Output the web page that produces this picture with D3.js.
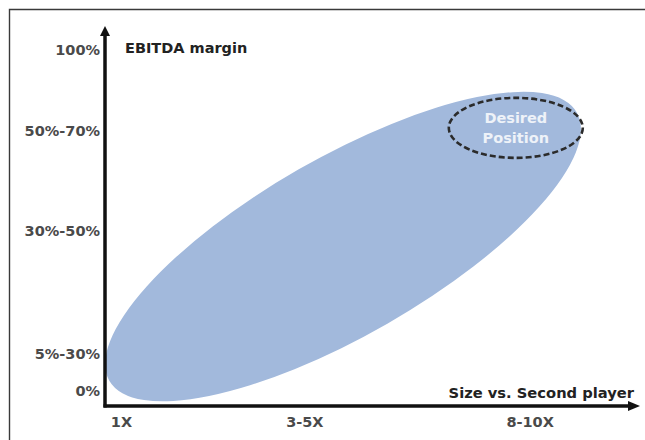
<!DOCTYPE html>
<html>
<head>
<meta charset="utf-8">
<script src="https://cdn.jsdelivr.net/npm/d3@7"></script>
<style>
  html, body { margin: 0; padding: 0; background: #fff; }
  svg { display: block; }
</style>
</head>
<body>
<svg id="chart" width="645" height="440"></svg>
<script>
// Axis tick labels and where they sit on each scale
const yTickLabels = ["0%", "5%-30%", "30%-50%", "50%-70%", "100%"];
const yTickValues = [0.5, 11.5, 47.2, 76.5, 100];
const xTickLabels = ["1X", "3-5X", "8-10X"];
const xTickValues = [0.33, 3.79, 8.04];

// Axis titles
const yTitle = "EBITDA margin";
const xTitle = "Size vs. Second player";

// Opportunity band: end points of its long axis (x, y in scale units)
const bandStart = [0.1, 3.6];
const bandEnd = [8.92, 81.8];

// Target zone and its caption
const targetCenter = [7.77, 77.3];
const targetLines = ["Desired", "Position"];

const svg = d3.select("#chart");

const x = d3.scaleLinear().domain([0, 10]).range([104, 634]);
const y = d3.scaleLinear().domain([0, 100]).range([393, 50]);

const axisX = 105, axisY = 406;
const font = "DejaVu Sans";

// frame
svg.append("path")
  .attr("d", "M9.5,440 V9.5 H645")
  .attr("fill", "none")
  .attr("stroke", "#3a3a3a")
  .attr("stroke-width", 1.4);

// opportunity band (rotated ellipse)
const p0 = [x(bandStart[0]), y(bandStart[1])];
const p1 = [x(bandEnd[0]), y(bandEnd[1])];
const cx = (p0[0] + p1[0]) / 2, cy = (p0[1] + p1[1]) / 2;
const rx = Math.hypot(p1[0] - p0[0], p1[1] - p0[1]) / 2;
const angle = Math.atan2(p1[1] - p0[1], p1[0] - p0[0]) * 180 / Math.PI;
svg.append("ellipse")
  .attr("cx", cx).attr("cy", cy)
  .attr("rx", rx).attr("ry", 89)
  .attr("transform", `rotate(${angle},${cx},${cy})`)
  .attr("fill", "#a2b9dc");

// target zone
const tx = x(targetCenter[0]), ty = y(targetCenter[1]);
svg.append("ellipse")
  .attr("cx", tx).attr("cy", ty)
  .attr("rx", 67).attr("ry", 30)
  .attr("fill", "none")
  .attr("stroke", "#2b2b2b")
  .attr("stroke-width", 2.6)
  .attr("stroke-dasharray", "6,3");

svg.append("text")
  .attr("x", tx).attr("y", ty - 10)
  .attr("text-anchor", "middle")
  .attr("font-family", font)
  .attr("font-weight", "bold")
  .attr("font-size", 14.5)
  .attr("fill", "#eef2f8")
  .selectAll("tspan")
  .data(targetLines)
  .join("tspan")
  .attr("x", tx)
  .attr("dy", (d, i) => i === 0 ? "0.35em" : 20)
  .text(d => d);

// axes
const axisColor = "#111";
svg.append("line")
  .attr("x1", axisX).attr("y1", axisY + 1.5)
  .attr("x2", axisX).attr("y2", 32)
  .attr("stroke", axisColor).attr("stroke-width", 3.5);
svg.append("path")
  .attr("d", `M${axisX - 5},36 L${axisX},26 L${axisX + 5},36 Z`)
  .attr("fill", axisColor);

svg.append("line")
  .attr("x1", axisX - 1.5).attr("y1", axisY)
  .attr("x2", 632).attr("y2", axisY)
  .attr("stroke", axisColor).attr("stroke-width", 3.5);
svg.append("path")
  .attr("d", `M628,${axisY - 5} L640,${axisY} L628,${axisY + 5} Z`)
  .attr("fill", axisColor);

// tick labels
svg.append("g")
  .selectAll("text")
  .data(yTickLabels)
  .join("text")
  .attr("x", 100)
  .attr("y", (d, i) => y(yTickValues[i]))
  .attr("dy", "0.35em")
  .attr("text-anchor", "end")
  .attr("font-family", font)
  .attr("font-weight", "bold")
  .attr("font-size", 14.5)
  .attr("fill", "#4a4a4a")
  .text(d => d);

svg.append("g")
  .selectAll("text")
  .data(xTickLabels)
  .join("text")
  .attr("x", (d, i) => x(xTickValues[i]))
  .attr("y", 422)
  .attr("dy", "0.35em")
  .attr("text-anchor", "middle")
  .attr("font-family", font)
  .attr("font-weight", "bold")
  .attr("font-size", 14.5)
  .attr("fill", "#4a4a4a")
  .text(d => d);

// axis titles
svg.append("text")
  .attr("x", 125).attr("y", 48)
  .attr("dy", "0.35em")
  .attr("font-family", font)
  .attr("font-weight", "bold")
  .attr("font-size", 14.5)
  .attr("fill", "#222")
  .text(yTitle);

svg.append("text")
  .attr("x", 634).attr("y", 393)
  .attr("dy", "0.35em")
  .attr("text-anchor", "end")
  .attr("font-family", font)
  .attr("font-weight", "bold")
  .attr("font-size", 14.7)
  .attr("fill", "#222")
  .text(xTitle);
</script>
</body>
</html>
